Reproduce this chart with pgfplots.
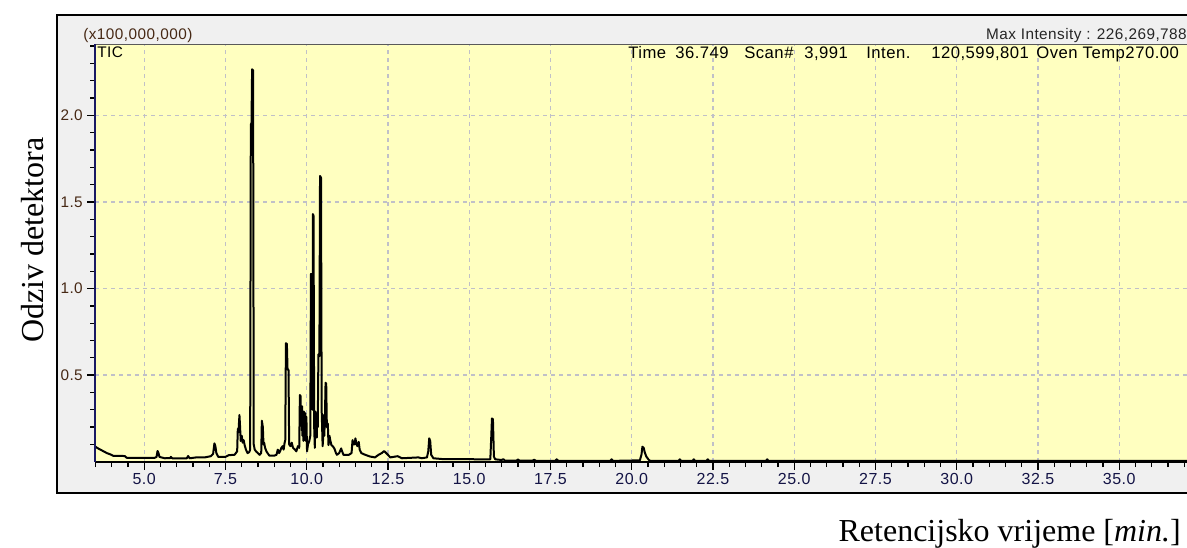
\documentclass[border=0pt]{standalone}
\usepackage{pgfplots}
\pgfplotsset{compat=1.18}
\usepackage{fontspec}
\setmainfont{Liberation Serif}
\newfontfamily\uifont{Liberation Sans}[LetterSpace=3]
\definecolor{plotbg}{RGB}{255,255,192}
\definecolor{framebg}{RGB}{240,240,240}
\definecolor{gridc}{RGB}{192,192,200}
\definecolor{yaxc}{RGB}{25,25,100}
\definecolor{xlab}{RGB}{20,20,70}
\definecolor{ylab}{RGB}{70,40,20}

\begin{document}
\begin{tikzpicture}
\useasboundingbox (0,0) rectangle (890.25pt,-411pt);
\fill[white] (0,0) rectangle (890.25pt,-411pt);
% outer frame of the screenshot (pixel coordinates, y down)
\begin{scope}[x=0.75pt,y=-0.75pt]
\filldraw[fill=framebg, draw=black, line width=1.5pt] (57,15) rectangle (1210,493);
\end{scope}

\begin{axis}[
    scale only axis,
    width=818.6pt,
    height=313.3pt,
    anchor=south west,
    at={(71.6pt,-346.3pt)},
    xmin=3.5, xmax=37.085,
    ymin=0, ymax=2.412,
    axis background/.style={fill=plotbg},
    axis line style={draw=none},
    clip mode=individual,
    tick pos=left,
    tick align=outside,
    major tick length=6pt,
    minor tick length=4pt,
    tick style={black, line width=1pt},
    xtick={5,7.5,...,35},
    ytick={0.5,1,1.5,2},
    minor xtick={3.5,4,...,37},
    minor ytick={0.1,0.2,...,2.41},
    xmajorgrids, ymajorgrids,
    major grid style={gridc, line width=1pt, dash pattern=on 3pt off 3pt},
    /pgf/number format/assume math mode=true,
    xticklabel={\pgfmathprintnumber[fixed,fixed zerofill,precision=1]{\tick}},
    yticklabel={\pgfmathprintnumber[fixed,fixed zerofill,precision=1]{\tick}},
    xticklabel style={font=\uifont\fontsize{12}{14}\selectfont, text=xlab, yshift=1pt},
    yticklabel style={font=\uifont\fontsize{11.5}{13}\selectfont, text=ylab},
]
\addplot[black, line width=1.5pt, line join=round] coordinates {
(3.50,0.087)(3.55,0.080)(3.65,0.070)(3.75,0.060)(3.85,0.050)(3.95,0.043)(4.05,0.034)(4.40,0.033)(4.46,0.023)
(5.33,0.023)(5.38,0.028)(5.41,0.062)(5.44,0.050)(5.47,0.028)(5.63,0.020)(5.80,0.021)(5.82,0.028)(5.86,0.020)
(6.31,0.020)(6.35,0.033)(6.40,0.020)(6.60,0.025)(6.86,0.025)(7.05,0.032)(7.12,0.045)(7.16,0.106)(7.19,0.090)
(7.22,0.050)(7.28,0.028)(7.50,0.028)(7.60,0.038)(7.78,0.040)
(7.86,0.060)(7.88,0.190)(7.90,0.170)(7.93,0.270)(7.95,0.200)(7.97,0.120)(8.00,0.150)(8.03,0.110)(8.06,0.125)
(8.09,0.096)(8.13,0.070)(8.18,0.050)(8.23,0.055)(8.26,0.070)
(8.28,1.950)(8.30,1.940)(8.32,2.266)(8.35,2.260)(8.37,0.100)(8.40,0.070)(8.45,0.058)(8.55,0.040)(8.60,0.050)
(8.62,0.237)(8.65,0.200)(8.67,0.100)(8.69,0.110)(8.72,0.080)(8.76,0.060)(8.85,0.035)(9.00,0.035)(9.07,0.040)
(9.11,0.070)(9.15,0.050)(9.18,0.060)(9.22,0.080)(9.26,0.090)(9.29,0.070)(9.32,0.110)(9.34,0.125)
(9.36,0.684)(9.39,0.680)(9.41,0.533)(9.44,0.530)(9.46,0.100)(9.50,0.090)(9.54,0.110)(9.58,0.080)(9.64,0.070)
(9.68,0.060)(9.73,0.090)(9.77,0.080)
(9.79,0.385)(9.81,0.380)(9.82,0.250)(9.84,0.300)(9.85,0.180)(9.86,0.320)(9.87,0.150)(9.89,0.280)(9.90,0.120)
(9.91,0.290)(9.92,0.130)(9.93,0.270)(9.95,0.200)(9.96,0.280)(9.97,0.120)(9.99,0.260)(10.01,0.060)(10.04,0.100)
(10.08,0.120)(10.11,0.150)
(10.13,1.084)(10.16,1.080)(10.18,0.300)(10.19,1.430)(10.21,1.420)(10.23,0.200)(10.25,0.080)(10.27,0.290)
(10.28,0.150)(10.30,0.270)(10.31,0.140)(10.32,0.260)(10.34,0.200)(10.36,0.620)(10.39,0.610)(10.41,1.650)
(10.44,1.640)(10.46,0.300)(10.49,0.090)(10.51,0.150)(10.53,0.270)(10.54,0.150)(10.56,0.250)(10.58,0.456)
(10.60,0.450)(10.62,0.200)(10.65,0.220)(10.67,0.096)(10.70,0.150)(10.73,0.120)(10.76,0.096)(10.80,0.090)
(10.85,0.077)(10.90,0.050)(10.93,0.040)
(11.00,0.050)(11.06,0.077)(11.09,0.060)(11.13,0.040)(11.30,0.040)(11.38,0.050)(11.41,0.125)(11.44,0.100)
(11.47,0.100)(11.50,0.135)(11.53,0.100)(11.56,0.090)(11.60,0.115)(11.63,0.070)(11.68,0.050)(11.80,0.040)
(11.95,0.030)(12.10,0.025)(12.21,0.040)(12.31,0.050)(12.38,0.062)(12.42,0.055)(12.50,0.040)(12.57,0.025)
(12.80,0.032)(12.93,0.020)(13.44,0.025)(13.54,0.020)(13.70,0.025)
(13.74,0.060)(13.77,0.135)(13.80,0.120)(13.83,0.040)(13.90,0.020)(14.20,0.015)(15.65,0.014)(15.68,0.150)
(15.70,0.250)(15.73,0.245)(15.76,0.030)(15.80,0.014)
(16.00,0.010)(16.05,0.015)(16.10,0.006)(16.45,0.006)(16.50,0.013)(16.55,0.006)(16.95,0.006)(17.00,0.012)
(17.05,0.005)(17.65,0.005)(17.69,0.014)(17.74,0.005)(19.34,0.005)(19.38,0.014)(19.43,0.005)
(20.25,0.008)(20.30,0.040)(20.33,0.087)(20.37,0.080)(20.40,0.055)(20.45,0.030)(20.52,0.012)(20.57,0.005)
(21.44,0.005)(21.48,0.014)(21.52,0.005)(21.87,0.005)(21.91,0.014)(21.95,0.005)(22.30,0.005)(22.34,0.014)
(22.38,0.005)(24.13,0.005)(24.17,0.014)(24.21,0.005)(37.10,0.005)
};
\draw[gray!70!black, line width=0.6pt] (rel axis cs:0,1) -- (rel axis cs:1,1);
\draw[black, line width=1.5pt] (rel axis cs:0,0) -- (rel axis cs:1,0);
\draw[yaxc, line width=1.5pt] (rel axis cs:0,0) -- (rel axis cs:0,1);
\end{axis}

\begin{scope}[x=0.75pt,y=-0.75pt]
\begin{scope}[every node/.style={inner sep=0pt, font=\uifont\fontsize{11.5}{13}\selectfont}]
\node[anchor=base west, text=ylab] at (83,40) {(x100,000,000)};
\node[anchor=base east, text=black!85] at (1187,40) {Max Intensity : 226,269,788};
\node[anchor=base west] at (97,58) {TIC};
\end{scope}
\begin{scope}[every node/.style={inner sep=0pt, font=\uifont\fontsize{12.5}{14}\selectfont, anchor=base west}]
\node at (628,59) {Time};
\node at (675,59) {36.749};
\node at (744,59) {Scan\#};
\node at (804,59) {3,991};
\node at (866,59) {Inten.};
\node at (931,59) {120,599,801};
\node at (1036,59) {Oven Temp270.00};
\end{scope}
\node[rotate=90, anchor=base, inner sep=0pt, font=\fontsize{24}{26}\selectfont] at (43,240) {Odziv detektora};
\node[anchor=base east, inner sep=0pt, font=\fontsize{24}{26}\selectfont] at (1181,541) {Retencijsko vrijeme [\textit{min.}]};
\end{scope}
\end{tikzpicture}
\end{document}
